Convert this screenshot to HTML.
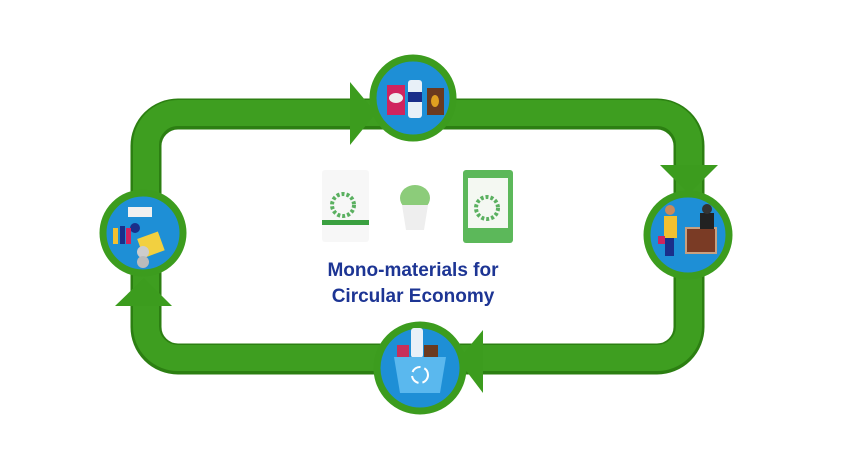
<!DOCTYPE html>
<html><head><meta charset="utf-8"><style>
html,body{margin:0;padding:0;background:#fff;}
svg{display:block;}
</style></head><body>
<svg width="850" height="473" viewBox="0 0 850 473" xmlns="http://www.w3.org/2000/svg">
<!-- loop band -->
<rect x="146" y="114" width="543" height="245" rx="32" ry="32" fill="none" stroke="#2c7f12" stroke-width="31"/>
<rect x="146" y="113" width="543" height="245" rx="32" ry="32" fill="none" stroke="#3e9e20" stroke-width="26"/>
<!-- arrowheads -->
<polygon points="350,82 350,145 376,113" fill="#3c9c1e"/>
<polygon points="660,165 718,165 689,194" fill="#3c9c1e"/>
<polygon points="483,330 483,393 458,360" fill="#3c9c1e"/>
<polygon points="115,306 172,306 144,278" fill="#3c9c1e"/>
<!-- circles -->
<g stroke="#3c9c1e" stroke-width="7" fill="#1e8fd6">
<circle cx="413" cy="98" r="40"/>
<circle cx="688" cy="235" r="41"/>
<circle cx="420" cy="368" r="43"/>
<circle cx="143" cy="233" r="40"/>
</g>
<!-- top icons -->
<rect x="387" y="85" width="18" height="30" fill="#d0245e"/><ellipse cx="396" cy="98" rx="7" ry="5" fill="#eee"/>
<rect x="408" y="80" width="14" height="38" rx="3" fill="#e8f0f8"/><rect x="408" y="92" width="14" height="10" fill="#1a2e8a"/>
<rect x="427" y="88" width="17" height="27" fill="#6b3a1f"/><ellipse cx="435" cy="101" rx="4" ry="6" fill="#e0a020"/>
<!-- right icons -->
<rect x="664" y="216" width="13" height="22" fill="#f2c030"/><circle cx="670" cy="210" r="5" fill="#c98a5c"/>
<rect x="665" y="238" width="9" height="18" fill="#1a2e8a"/><rect x="658" y="236" width="7" height="8" fill="#d0245e"/>
<rect x="686" y="228" width="30" height="25" fill="#7a3b25" stroke="#c8a080" stroke-width="2"/>
<rect x="700" y="213" width="14" height="16" fill="#222"/><circle cx="707" cy="209" r="5" fill="#333"/>
<!-- bottom icons -->
<rect x="397" y="345" width="12" height="15" fill="#c8305a"/><rect x="411" y="328" width="12" height="30" rx="3" fill="#e8f0f8"/>
<rect x="424" y="345" width="14" height="14" fill="#6b3a1f"/>
<polygon points="394,357 446,357 440,393 400,393" fill="#5ab8ee"/>
<circle cx="420" cy="375" r="8" fill="none" stroke="#fff" stroke-width="2" stroke-dasharray="10 4"/>
<!-- left icons -->
<rect x="128" y="207" width="24" height="10" fill="#f0f0f0"/>
<circle cx="135" cy="228" r="5" fill="#1a2e8a"/>
<rect x="113" y="228" width="5" height="16" fill="#f2c030"/><rect x="120" y="226" width="5" height="18" fill="#1a2e8a"/><rect x="126" y="228" width="5" height="16" fill="#d0245e"/>
<rect x="140" y="235" width="22" height="20" fill="#f2d040" transform="rotate(-20 150 245)"/>
<circle cx="143" cy="252" r="6" fill="#ccc"/><circle cx="143" cy="262" r="6" fill="#bbb"/>
<!-- products -->
<rect x="322" y="170" width="47" height="72" rx="3" fill="#f7f7f7"/>
<rect x="322" y="220" width="47" height="5" fill="#3aa040"/>
<circle cx="343" cy="205" r="11" fill="none" stroke="#5ab060" stroke-width="4" stroke-dasharray="3 2"/>
<ellipse cx="415" cy="198" rx="15" ry="13" fill="#8ccc7a"/>
<polygon points="402,205 428,205 424,230 406,230" fill="#eeeeee"/>
<rect x="463" y="170" width="50" height="73" rx="3" fill="#5cb85a"/>
<rect x="468" y="178" width="40" height="50" fill="#f4f8f2"/>
<circle cx="487" cy="208" r="11" fill="none" stroke="#5ab060" stroke-width="4" stroke-dasharray="3 2"/>
<!-- title -->
<g font-family="Liberation Sans, sans-serif" font-weight="bold" font-size="19" fill="#1d3594" text-anchor="middle">
<text x="413" y="276">Mono-materials for</text>
<text x="413" y="302">Circular Economy</text>
</g>
</svg>
</body></html>
